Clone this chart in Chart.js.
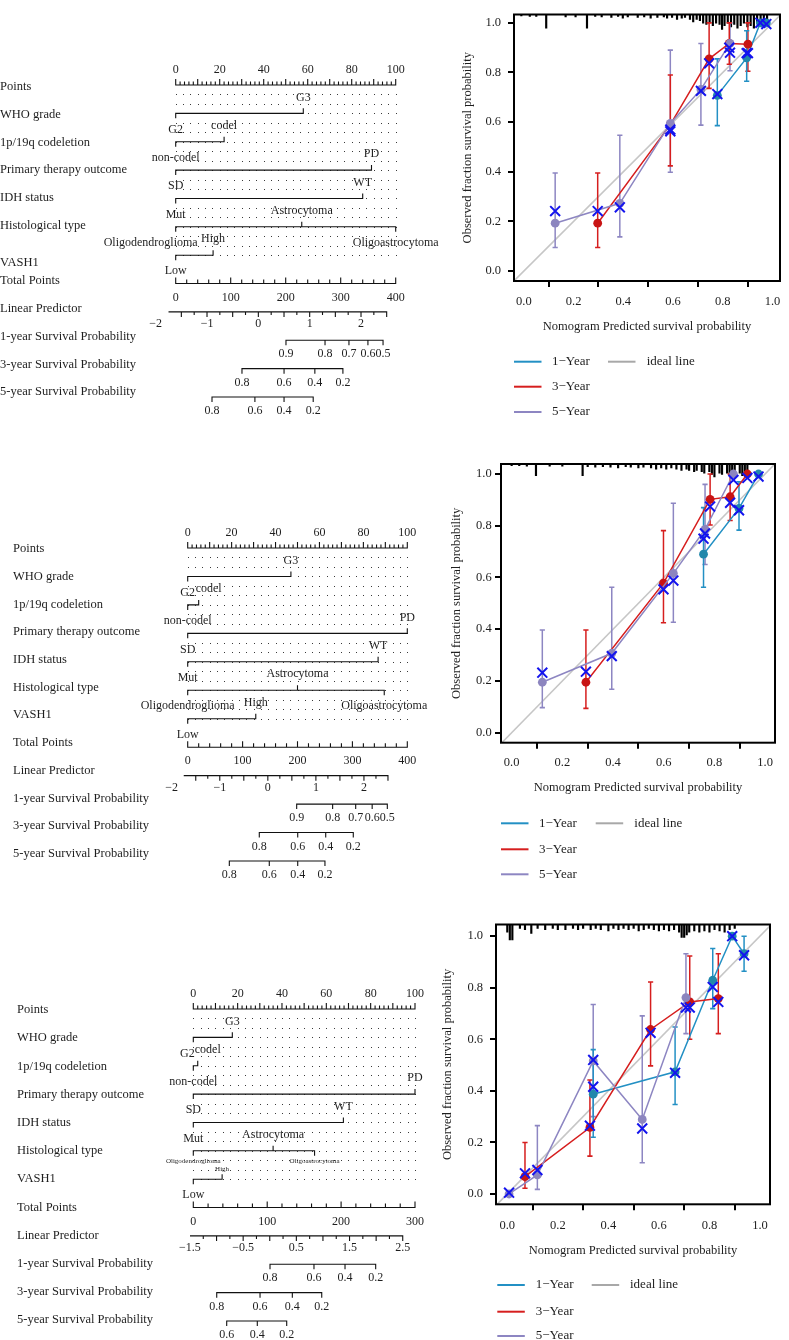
<!DOCTYPE html>
<html>
<head>
<meta charset="utf-8">
<script src="https://cdn.jsdelivr.net/npm/chart.js@4.4.1/dist/chart.umd.min.js"></script>
<style>
  body { margin: 0; background: #fff; }
  #page { position: relative; width: 789px; height: 1340px; overflow: hidden; background: #fff; }
  canvas { position: absolute; }
</style>
</head>
<body>
<div id="page">
  <canvas id="nomoA" width="445" height="400" style="left:0;top:40px"></canvas>
  <canvas id="nomoB" width="445" height="400" style="left:0;top:500px"></canvas>
  <canvas id="nomoC" width="445" height="380" style="left:0;top:960px"></canvas>
  <canvas id="calA" width="349" height="430" style="left:440px;top:0"></canvas>
  <canvas id="calB" width="349" height="450" style="left:440px;top:450px"></canvas>
  <canvas id="calC" width="349" height="430" style="left:440px;top:910px"></canvas>
</div>
<script>
const SERIF = '"Liberation Serif", "DejaVu Serif", serif';

// ---- nomogram data ----
const nomoRowNames = ["Points", "WHO grade", "1p/19q codeletion", "Primary therapy outcome", "IDH status",
    "Histological type", "VASH1", "Total Points", "Linear Predictor",
    "1-year Survival Probability", "3-year Survival Probability", "5-year Survival Probability"];
const factorLevels = [["G2", "G3"], ["non-codel", "codel"], ["SD", "PD"], ["Mut", "WT"],
    ["Oligodendroglioma", "Astrocytoma", "Oligoastrocytoma"], ["Low", "High"]];
const pointsLabels = [0, 20, 40, 60, 80, 100];

const nomoAFactorPoints = [[0, 58], [0, 22], [0, 89], [0, 85], [0, 57.3, 100], [0, 17]];
const nomoATotalMax = 400;
const nomoATotalLabels = [0, 100, 200, 300, 400];
const nomoALpRange = [-2, 2.5];
const nomoALpRangeAt = [-36.4, 383.6];
const nomoALpLabels = [-2, -1, 0, 1, 2];
const nomoASurvLabels = [["0.9", "0.8", "0.7", "0.6", "0.5"], ["0.8", "0.6", "0.4", "0.2"], ["0.8", "0.6", "0.4", "0.2"]];
const nomoASurvAt = [[200.5, 271.5, 315, 349.5, 377], [120.5, 197, 253, 304], [66, 144, 197, 250]];

const nomoBFactorPoints = [[0, 47], [0, 5], [0, 100], [0, 86.7], [0, 50, 89.5], [0, 31]];
const nomoBTotalMax = 400;
const nomoBTotalLabels = [0, 100, 200, 300, 400];
const nomoBLpRange = [-2, 2.5];
const nomoBLpRangeAt = [-29.1, 364.8];
const nomoBLpLabels = [-2, -1, 0, 1, 2];
const nomoBSurvLabels = [["0.9", "0.8", "0.7", "0.6", "0.5"], ["0.8", "0.6", "0.4", "0.2"], ["0.8", "0.6", "0.4", "0.2"]];
const nomoBSurvAt = [[198.5, 264, 306, 336, 363.6], [130.4, 200.4, 251.4, 301.6], [75.8, 148.6, 200.4, 250]];

const nomoCFactorPoints = [[0, 17.6], [0, 2], [0, 100], [0, 67.7], [0, 36, 54.7], [0, 13]];
const nomoCTotalMax = 300;
const nomoCTotalLabels = [0, 100, 200, 300];
const nomoCLpRange = [-1.5, 2.5];
const nomoCLpRangeAt = [-4.5, 283.4];
const nomoCLpLabels = [-1.5, -0.5, 0.5, 1.5, 2.5];
const nomoCSurvLabels = [["0.8", "0.6", "0.4", "0.2"], ["0.8", "0.6", "0.4", "0.2"], ["0.6", "0.4", "0.2"]];
const nomoCSurvAt = [[103.8, 163.3, 205.3, 246.8], [31.7, 90.3, 134, 173.8], [45.2, 86.6, 126.4]];

// ---- calibration data ----
const calYearLabels = ["1\u2212Year", "3\u2212Year", "5\u2212Year"];
const calTicks = [0, 0.2, 0.4, 0.6, 0.8, 1.0];

const calA1Pred = [0.778, 0.896, 0.951, 0.975];
const calA1Obs = [0.708, 0.859, 1.0, 1.0];
const calA1Lo = [0.586, 0.765, 1.0, 1.0];
const calA1Hi = [0.855, 0.968, 1.0, 1.0];
const calA1Cor = [0.713, 0.878, 1.0, 0.995];
const calA3Pred = [0.297, 0.589, 0.745, 0.826, 0.901];
const calA3Obs = [0.193, 0.59, 0.855, 0.917, 0.914];
const calA3Lo = [0.095, 0.424, 0.736, 0.833, 0.805];
const calA3Hi = [0.395, 0.79, 1.0, 1.0, 1.0];
const calA3Cor = [0.242, 0.57, 0.837, 0.9, 0.878];
const calA5Pred = [0.126, 0.386, 0.589, 0.712, 0.829];
const calA5Obs = [0.193, 0.273, 0.595, 0.732, 0.917];
const calA5Lo = [0.095, 0.138, 0.398, 0.588, 0.807];
const calA5Hi = [0.395, 0.547, 0.89, 0.917, 1.0];
const calA5Cor = [0.242, 0.257, 0.563, 0.726, 0.88];
const rugAX = [-0.01, 0.024, 0.05, 0.09, 0.168, 0.208, 0.254, 0.287, 0.313, 0.352,
    0.379, 0.398, 0.418, 0.458, 0.484, 0.51, 0.537, 0.563, 0.576, 0.596,
    0.616, 0.635, 0.648, 0.668, 0.681, 0.695, 0.708, 0.721, 0.734, 0.747,
    0.76, 0.773, 0.787, 0.797, 0.807, 0.82, 0.833, 0.846, 0.859, 0.872,
    0.885, 0.899, 0.912, 0.925, 0.938, 0.952, 0.965, 0.978];
const rugAH = [0.006, 0.008, 0.008, 0.055, 0.01, 0.01, 0.055, 0.008, 0.01, 0.012,
    0.008, 0.015, 0.01, 0.012, 0.01, 0.015, 0.012, 0.01, 0.015, 0.012,
    0.02, 0.015, 0.012, 0.02, 0.03, 0.02, 0.025, 0.035, 0.04, 0.03,
    0.045, 0.035, 0.04, 0.06, 0.045, 0.035, 0.05, 0.04, 0.055, 0.045,
    0.035, 0.05, 0.045, 0.055, 0.035, 0.045, 0.03, 0.02];

const calB1Pred = [0.757, 0.897, 0.974];
const calB1Obs = [0.69, 0.867, 1.0];
const calB1Lo = [0.562, 0.783, 1.0];
const calB1Hi = [0.87, 0.97, 1.0];
const calB1Cor = [0.75, 0.86, 0.99];
const calB3Pred = [0.293, 0.599, 0.783, 0.862, 0.93];
const calB3Obs = [0.195, 0.578, 0.902, 0.912, 1.0];
const calB3Lo = [0.094, 0.425, 0.803, 0.82, 1.0];
const calB3Hi = [0.397, 0.781, 1.0, 1.0, 1.0];
const calB3Cor = [0.236, 0.554, 0.874, 0.889, 0.985];
const calB5Pred = [0.121, 0.395, 0.638, 0.763, 0.875];
const calB5Obs = [0.195, 0.307, 0.616, 0.786, 1.0];
const calB5Lo = [0.097, 0.168, 0.427, 0.65, 1.0];
const calB5Hi = [0.397, 0.562, 0.887, 0.96, 1.0];
const calB5Cor = [0.232, 0.296, 0.588, 0.77, 0.977];
const rugBX = [0.0, 0.03, 0.06, 0.096, 0.15, 0.2, 0.28, 0.3, 0.33, 0.36,
    0.39, 0.42, 0.45, 0.47, 0.5, 0.52, 0.55, 0.57, 0.59, 0.61,
    0.63, 0.65, 0.67, 0.69, 0.7, 0.72, 0.73, 0.75, 0.76, 0.78,
    0.79, 0.8, 0.82, 0.83, 0.85, 0.86, 0.87, 0.88, 0.9, 0.91,
    0.92, 0.93];
const rugBH = [0.006, 0.006, 0.008, 0.045, 0.008, 0.008, 0.045, 0.01, 0.012, 0.01,
    0.012, 0.015, 0.01, 0.012, 0.015, 0.012, 0.015, 0.02, 0.015, 0.02,
    0.015, 0.02, 0.025, 0.02, 0.025, 0.03, 0.025, 0.03, 0.035, 0.03,
    0.04, 0.05, 0.035, 0.04, 0.035, 0.045, 0.04, 0.05, 0.035, 0.045,
    0.04, 0.035];

const calC1Pred = [0.34, 0.664, 0.813, 0.89, 0.937];
const calC1Obs = [0.387, 0.474, 0.829, 1.0, 0.932];
const calC1Lo = [0.22, 0.347, 0.719, 1.0, 0.864];
const calC1Hi = [0.56, 0.648, 0.952, 1.0, 1.0];
const calC1Cor = [0.416, 0.47, 0.803, 1.0, 0.926];
const calC3Pred = [0.07, 0.327, 0.567, 0.722, 0.835];
const calC3Obs = [0.067, 0.258, 0.638, 0.745, 0.758];
const calC3Lo = [0.022, 0.147, 0.497, 0.6, 0.622];
const calC3Hi = [0.2, 0.442, 0.822, 0.923, 0.932];
const calC3Cor = [0.08, 0.265, 0.625, 0.723, 0.745];
const calC5Pred = [0.007, 0.119, 0.34, 0.534, 0.707];
const calC5Obs = [0.0, 0.074, 0.516, 0.289, 0.762];
const calC5Lo = [0.0, 0.018, 0.3, 0.121, 0.622];
const calC5Hi = [0.0, 0.265, 0.735, 0.691, 0.932];
const calC5Cor = [0.005, 0.093, 0.52, 0.254, 0.723];
const rugCX = [0.0, 0.01, 0.02, 0.05, 0.07, 0.095, 0.12, 0.15, 0.18, 0.2,
    0.23, 0.26, 0.28, 0.3, 0.33, 0.35, 0.37, 0.4, 0.42, 0.44,
    0.46, 0.48, 0.5, 0.52, 0.54, 0.56, 0.58, 0.6, 0.62, 0.64,
    0.66, 0.68, 0.69, 0.7, 0.71, 0.72, 0.74, 0.76, 0.78, 0.8,
    0.82, 0.84, 0.86, 0.88, 0.9];
const rugCH = [0.03, 0.06, 0.06, 0.015, 0.02, 0.035, 0.015, 0.02, 0.015, 0.02,
    0.02, 0.015, 0.02, 0.015, 0.02, 0.015, 0.02, 0.025, 0.015, 0.02,
    0.015, 0.02, 0.015, 0.025, 0.02, 0.015, 0.02, 0.025, 0.02, 0.025,
    0.02, 0.03, 0.05, 0.05, 0.04, 0.03, 0.025, 0.03, 0.025, 0.03,
    0.02, 0.025, 0.03, 0.02, 0.015];

// ---- styles ----
const lineColors = ["#2390c4", "#d61e1e", "#8d86c2"];
const dotColors = ["#2288ab", "#c81414", "#8c85bf"];
const xColor = "#1414ee";
const idealColor = "#c6c6c6";
const textColor = "#1e1e1e";

function tickPath(vals, lens, row) {
    const out = [];
    vals.forEach((v, i) => {
        out.push({ x: v, y: row });
        if (lens[i]) {
            out.push({ x: v, y: row + lens[i] });
            out.push({ x: v, y: row });
        }
    });
    return out;
}

function fmtNum(v) {
    return v < 0 ? "\u2212" + Math.abs(v) : String(v);
}

const nomoPlugin = {
    id: "nomo",
    beforeDatasetsDraw(chart, args, o) {
        const { ctx } = chart;
        const x = chart.scales.x, y = chart.scales.y;
        ctx.save();
        ctx.fillStyle = "#3a3a3a";
        for (let k = 1; k <= 18; k++) {
            const py = Math.round(y.getPixelForValue(k / 3));
            for (let j = 0; j <= 30; j++) {
                const px = Math.round(x.getPixelForValue(j * 100 / 30));
                ctx.fillRect(px, py, 1, 1);
            }
        }
        ctx.restore();
    },
    afterDatasetsDraw(chart, args, o) {
        const { ctx } = chart;
        const x = chart.scales.x, xt = chart.scales.xt, y = chart.scales.y;
        const d = o.d, lay = o.lay;
        const text = (s, px, py, align, size) => {
            ctx.font = (size || 12) + "px " + SERIF;
            ctx.textAlign = align;
            ctx.textBaseline = "middle";
            ctx.fillText(s, px, py);
        };
        ctx.save();
        ctx.fillStyle = textColor;
        const y0 = y.getPixelForValue(0);
        nomoRowNames.forEach((s, r) => text(s, lay.nameX, y0 + lay.nameDy + r * lay.nameStep + (lay.nameFix[r] || 0), "left", 12.5));
        pointsLabels.forEach(v => text(String(v), x.getPixelForValue(v), y0 - 15, "center"));
        d.factors.forEach((vals, i) => {
            const py = y.getPixelForValue(i + 1);
            vals.forEach((v, k) => {
                const name = factorLevels[i][k];
                const small = lay.small.includes(name);
                const off = (small ? 10 : 16) * (k % 2 ? -1 : 1);
                text(name, x.getPixelForValue(v) + (lay.shift[name] || 0), py + off, "center", small ? 7 : 12);
            });
        });
        const y7 = y.getPixelForValue(7);
        d.totalLabels.forEach(v => text(String(v), xt.getPixelForValue(v), y7 + 14, "center"));
        const y8 = y.getPixelForValue(8);
        d.lpLabels.forEach(v => text(fmtNum(v), xt.getPixelForValue(d.lpAt(v)), y8 + 12, "center"));
        d.survLabels.forEach((labs, i) => {
            const py = y.getPixelForValue(9 + i) + 14;
            labs.forEach((s, k) => text(s, xt.getPixelForValue(d.survAt[i][k]), py, "center"));
        });
        ctx.restore();
    }
};

function buildNomogram(canvasId, d, lay) {
    const px = 1 / lay.rowPx;
    const sets = [];
    const addPath = (data, axis) => sets.push({
        type: "line", data, xAxisID: axis, yAxisID: "y",
        borderColor: "#111", borderWidth: 1.1, pointRadius: 0, tension: 0, clip: false, fill: false
    });
    const pt = [], pl = [];
    for (let v = 0; v <= 100; v += 2) { pt.push(v); pl.push(v % 10 === 0 ? -6 * px : -3.5 * px); }
    addPath(tickPath(pt, pl, 0), "x");
    d.factors.forEach((vals, i) => {
        addPath(tickPath(vals, vals.map((v, k) => (k % 2 ? -5 : 5) * px), i + 1), "x");
    });
    const tt = [], tl = [];
    for (let v = 0; v <= d.totalMax; v += 20) { tt.push(v); tl.push(v % 100 === 0 ? -6 * px : -4 * px); }
    addPath(tickPath(tt, tl, 7), "xt");
    d.lpAt = v => d.lpRangeAt[0] + (v - d.lpRange[0]) * (d.lpRangeAt[1] - d.lpRangeAt[0]) / (d.lpRange[1] - d.lpRange[0]);
    const lt = [], ll = [];
    for (let v = d.lpRange[0]; v <= d.lpRange[1] + 1e-9; v += 0.25) {
        lt.push(d.lpAt(v));
        ll.push(Math.abs(v * 2 - Math.round(v * 2)) < 1e-6 ? 5 * px : 3 * px);
    }
    addPath(tickPath(lt, ll, 8), "xt");
    d.survAt.forEach((vals, i) => addPath(tickPath(vals, vals.map(() => 5 * px), 9 + i), "xt"));

    return new Chart(document.getElementById(canvasId), {
        type: "line",
        data: { datasets: sets },
        options: {
            responsive: false, animation: false, devicePixelRatio: 1,
            layout: { padding: lay.pad },
            plugins: { legend: { display: false }, tooltip: { enabled: false }, nomo: { d, lay } },
            scales: {
                x: { type: "linear", min: 0, max: 100, display: false },
                xt: { type: "linear", axis: "x", min: 0, max: d.totalMax, display: false },
                y: { type: "linear", min: 0, max: 11, reverse: true, display: false }
            }
        },
        plugins: [nomoPlugin]
    });
}

const calPlugin = {
    id: "calib",
    afterDatasetsDraw(chart, args, o) {
        const { ctx, chartArea: a } = chart;
        ctx.save();
        ctx.strokeStyle = "#000";
        ctx.lineWidth = 2;
        ctx.strokeRect(a.left, a.top, a.right - a.left, a.bottom - a.top);
        ctx.restore();
    },
    afterDraw(chart, args, o) {
        const { ctx } = chart;
        const lg = o.lay.legend;
        ctx.save();
        ctx.font = "13px " + SERIF;
        ctx.textBaseline = "middle";
        ctx.textAlign = "left";
        ctx.lineWidth = 2;
        calYearLabels.forEach((s, i) => {
            ctx.strokeStyle = lineColors[i];
            ctx.beginPath();
            ctx.moveTo(lg.lineX, lg.rows[i]);
            ctx.lineTo(lg.lineX + 27.5, lg.rows[i]);
            ctx.stroke();
            ctx.fillStyle = textColor;
            ctx.fillText(s, lg.textX, lg.rows[i]);
        });
        ctx.strokeStyle = "#a8a8a8";
        ctx.beginPath();
        ctx.moveTo(lg.idealX, lg.rows[0]);
        ctx.lineTo(lg.idealX + 27.5, lg.rows[0]);
        ctx.stroke();
        ctx.fillStyle = textColor;
        ctx.fillText("ideal line", lg.idealTextX, lg.rows[0]);
        ctx.restore();
    }
};

function buildCalib(canvasId, series, rugX, rugH, lay) {
    const sets = [];
    sets.push({
        type: "line", data: [{ x: -0.1, y: -0.1 }, { x: 1.1, y: 1.1 }],
        borderColor: idealColor, borderWidth: 1.6, pointRadius: 0, order: 9
    });
    sets.push({
        type: "bar", data: rugX.map((v, i) => ({ x: v, y: [lay.y[1] - rugH[i], lay.y[1]] })),
        backgroundColor: "#000", barThickness: 1.5, order: 8
    });
    series.forEach((s, i) => {
        const eb = [];
        s.pred.forEach((v, j) => {
            if (s.hi[j] > s.lo[j]) eb.push({ x: v, y: s.lo[j] }, { x: v, y: s.hi[j] }, { x: v, y: null });
        });
        sets.push({
            type: "line", data: eb, borderColor: lineColors[i], borderWidth: 1.5, spanGaps: false,
            pointStyle: "line", pointRadius: 2.6, pointBorderColor: lineColors[i], pointBorderWidth: 1.6, order: 6
        });
        sets.push({
            type: "line", data: s.pred.map((v, j) => ({ x: v, y: s.obs[j] })),
            borderColor: lineColors[i], borderWidth: 1.5, pointRadius: 4.4,
            pointBackgroundColor: dotColors[i], pointBorderWidth: 0, order: 3 - i
        });
        sets.push({
            type: "line", showLine: false, data: s.pred.map((v, j) => ({ x: v, y: s.cor[j] })),
            pointStyle: "crossRot", pointRadius: 7, pointBorderColor: xColor, pointBorderWidth: 2, order: 0
        });
    });
    const tickFont = { family: SERIF, size: 12.5 };
    const titleFont = { family: SERIF, size: 12.5 };
    return new Chart(document.getElementById(canvasId), {
        type: "line",
        data: { datasets: sets },
        options: {
            responsive: false, animation: false, devicePixelRatio: 1,
            layout: { padding: lay.pad },
            plugins: { legend: { display: false }, tooltip: { enabled: false }, calib: { lay } },
            scales: {
                x: {
                    type: "linear", min: lay.x[0], max: lay.x[1], offset: false,
                    afterBuildTicks: sc => { sc.ticks = calTicks.map(v => ({ value: v })); },
                    afterFit: sc => { sc.height = lay.xH; },
                    grid: { drawOnChartArea: false, drawTicks: true, tickLength: 6, lineWidth: 2, color: "#000" },
                    border: { display: false },
                    ticks: { padding: lay.xTickPad, color: textColor, font: tickFont, maxRotation: 0, autoSkip: false,
                        callback: v => Number(v).toFixed(1) },
                    title: { display: true, text: "Nomogram Predicted survival probability", color: textColor,
                        font: titleFont, padding: { top: 0, bottom: 0.5 } }
                },
                y: {
                    type: "linear", min: lay.y[0], max: lay.y[1],
                    afterBuildTicks: sc => { sc.ticks = calTicks.map(v => ({ value: v })); },
                    afterFit: sc => { sc.width = lay.yW; },
                    grid: { drawOnChartArea: false, drawTicks: true, tickLength: 6, lineWidth: 2, color: "#000" },
                    border: { display: false },
                    ticks: { padding: lay.yTickPad, color: textColor, font: tickFont, autoSkip: false,
                        callback: v => Number(v).toFixed(1) },
                    title: { display: true, text: "Observed fraction survival probability", color: textColor,
                        font: titleFont, padding: { top: lay.yTitlePad, bottom: 0 } }
                }
            }
        },
        plugins: [calPlugin]
    });
}

buildNomogram("nomoA", {
    factors: nomoAFactorPoints, totalMax: nomoATotalMax, totalLabels: nomoATotalLabels,
    lpRange: nomoALpRange, lpRangeAt: nomoALpRangeAt, lpLabels: nomoALpLabels,
    survLabels: nomoASurvLabels, survAt: nomoASurvAt
}, { pad: { left: 175.7, right: 49.3, top: 45, bottom: 43 }, rowPx: 28.36, nameX: 0, nameDy: 2,
     nameStep: 27.73, nameFix: { 6: 9 }, small: [], shift: { Oligodendroglioma: -25 } });

buildNomogram("nomoB", {
    factors: nomoBFactorPoints, totalMax: nomoBTotalMax, totalLabels: nomoBTotalLabels,
    lpRange: nomoBLpRange, lpRangeAt: nomoBLpRangeAt, lpLabels: nomoBLpLabels,
    survLabels: nomoBSurvLabels, survAt: nomoBSurvAt
}, { pad: { left: 187.7, right: 37.7, top: 48, bottom: 39 }, rowPx: 28.45, nameX: 13, nameDy: 1,
     nameStep: 27.7, nameFix: {}, small: [], shift: { codel: 10 } });

buildNomogram("nomoC", {
    factors: nomoCFactorPoints, totalMax: nomoCTotalMax, totalLabels: nomoCTotalLabels,
    lpRange: nomoCLpRange, lpRangeAt: nomoCLpRangeAt, lpLabels: nomoCLpLabels,
    survLabels: nomoCSurvLabels, survAt: nomoCSurvAt
}, { pad: { left: 193.3, right: 30, top: 49, bottom: 19 }, rowPx: 28.36, nameX: 17, nameDy: 1,
     nameStep: 28.2, nameFix: {}, small: ["Oligodendroglioma", "Oligoastrocytoma", "High"], shift: { codel: 10, G2: -6 } });

buildCalib("calA", [
    { pred: calA1Pred, obs: calA1Obs, lo: calA1Lo, hi: calA1Hi, cor: calA1Cor },
    { pred: calA3Pred, obs: calA3Obs, lo: calA3Lo, hi: calA3Hi, cor: calA3Cor },
    { pred: calA5Pred, obs: calA5Obs, lo: calA5Lo, hi: calA5Hi, cor: calA5Cor }
], rugAX, rugAH, {
    pad: { left: 14, right: 4, top: 3, bottom: 95 }, yW: 60, xH: 54, yTickPad: 7, xTickPad: 7, yTitlePad: 6,
    x: [-0.0395, 1.030], y: [-0.0398, 1.0336],
    legend: { lineX: 74, textX: 112, idealX: 168, idealTextX: 206.7, rows: [361.7, 386.7, 412] }
});

buildCalib("calB", [
    { pred: calB1Pred, obs: calB1Obs, lo: calB1Lo, hi: calB1Hi, cor: calB1Cor },
    { pred: calB3Pred, obs: calB3Obs, lo: calB3Lo, hi: calB3Hi, cor: calB3Cor },
    { pred: calB5Pred, obs: calB5Obs, lo: calB5Lo, hi: calB5Hi, cor: calB5Cor }
], rugBX, rugBH, {
    pad: { left: 3, right: 14, top: 14, bottom: 104 }, yW: 58, xH: 53.3, yTickPad: 3.3, xTickPad: 7, yTitlePad: 6,
    x: [-0.042, 1.039], y: [-0.0387, 1.0387],
    legend: { lineX: 61, textX: 99, idealX: 155.7, idealTextX: 194.3, rows: [373.3, 399.3, 424.3] }
});

buildCalib("calC", [
    { pred: calC1Pred, obs: calC1Obs, lo: calC1Lo, hi: calC1Hi, cor: calC1Cor },
    { pred: calC3Pred, obs: calC3Obs, lo: calC3Lo, hi: calC3Hi, cor: calC3Cor },
    { pred: calC5Pred, obs: calC5Obs, lo: calC5Lo, hi: calC5Hi, cor: calC5Cor }
], rugCX, rugCH, {
    pad: { left: 0, right: 19, top: 14, bottom: 81.7 }, yW: 56, xH: 54, yTickPad: 7, xTickPad: 7.5, yTitlePad: 0,
    x: [-0.0447, 1.0396], y: [-0.04, 1.0453],
    legend: { lineX: 57.3, textX: 95.7, idealX: 151.7, idealTextX: 190, rows: [375, 401.7, 426] }
});
</script>
</body>
</html>
